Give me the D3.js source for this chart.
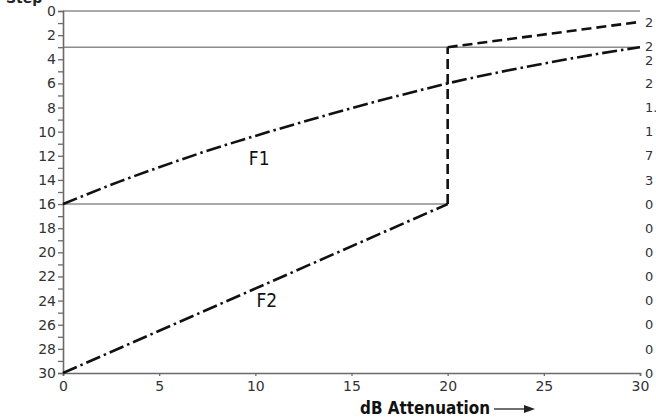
<!DOCTYPE html>
<html><head><meta charset="utf-8">
<script src="https://cdn.jsdelivr.net/npm/d3@7"></script>
<style>
html,body{margin:0;padding:0;background:#fff;overflow:hidden}
svg{display:block}
</style></head>
<body>
<svg id="c" width="656" height="417"></svg>
<script>
// ---- data ----
const f1Db   = [0, 3, 5, 7, 10, 13, 15, 17.5, 20, 25, 28, 30];
const f1Step = [16, 14.1, 12.95, 11.85, 10.35, 8.95, 8.05, 7.0, 6.0, 4.35, 3.5, 3.0];
const f2Db   = [0, 20];
const f2Step = [30, 16];
const jumpDb   = [20, 20];
const jumpStep = [16, 3];
const f2UpDb   = [20, 30];
const f2UpStep = [3, 0.9];
const gridSteps = [0, 3, 16];
const gridEnds  = [30, 30, 20];
const xTicks = [0, 5, 10, 15, 20, 25, 30];
const yTicks = d3.range(0, 31);
const rightSteps  = [0.9, 2.9, 4.1, 6, 8, 10, 12, 14, 16, 18, 20, 22, 24, 26, 28, 30];
const rightLabels = ["2", "2", "2", "2", "1.", "1", "7", "3", "0", "0", "0", "0", "0", "0", "0", "0"];
const curveLabels = ["F1", "F2"];
const curveLabelDb = [10.2, 10.6];
const curveLabelStep = [12.2, 24.0];

const svg = d3.select("#c");
const x = d3.scaleLinear().domain([0, 30]).range([63, 640]);
const y = d3.scaleLinear().domain([0, 30]).range([11, 373]);
const axisCol = "#6a6a6a", txtCol = "#333";
const cond = "'DejaVu Sans Condensed', 'DejaVu Sans'";

// grid lines
svg.append("g").selectAll("line").data(gridSteps).join("line")
  .attr("x1", x(0)).attr("x2", (d, i) => x(gridEnds[i]))
  .attr("y1", d => y(d)).attr("y2", d => y(d))
  .attr("stroke", "#8c8c8c").attr("stroke-width", 1.6);

// left axis
const ya = d3.axisLeft(y).tickValues(yTicks).tickSize(5).tickPadding(2)
  .tickFormat(d => d % 2 === 0 ? d : "");
const gy = svg.append("g").attr("transform", `translate(${x(0)},0)`).call(ya);
gy.select(".domain").attr("stroke", axisCol).attr("stroke-width", 1.6);
gy.selectAll(".tick line").attr("stroke", axisCol).attr("stroke-width", 1.3);
gy.selectAll("text").attr("font-family", "DejaVu Sans").attr("font-size", 14).attr("fill", txtCol);

// bottom axis
const xa = d3.axisBottom(x).tickValues(xTicks).tickSize(3).tickPadding(5);
const gx = svg.append("g").attr("transform", `translate(0,${y(30)})`).call(xa);
gx.select(".domain").attr("stroke", axisCol).attr("stroke-width", 1.6);
gx.selectAll(".tick line").attr("stroke", axisCol).attr("stroke-width", 1.3);
gx.selectAll("text").attr("font-family", "DejaVu Sans").attr("font-size", 14).attr("fill", txtCol);

// right labels (cropped by the picture edge)
svg.append("g").selectAll("text").data(rightLabels).join("text")
  .attr("x", 645).attr("y", (d, i) => y(rightSteps[i]))
  .attr("dy", "0.36em")
  .attr("font-family", "DejaVu Sans").attr("font-size", 13).attr("fill", txtCol)
  .text(d => d);

const line = d3.line().x(d => x(d[0])).y(d => y(d[1]));
const lineC = d3.line().x(d => x(d[0])).y(d => y(d[1])).curve(d3.curveMonotoneX);

// F1
svg.append("path").datum(f1Db.map((d, i) => [d, f1Step[i]]))
  .attr("d", lineC).attr("fill", "none").attr("stroke", "#111")
  .attr("stroke-width", 2.6).attr("stroke-dasharray", "15,4,2.5,4");
// F2
svg.append("path").datum(f2Db.map((d, i) => [d, f2Step[i]]))
  .attr("d", line).attr("fill", "none").attr("stroke", "#111")
  .attr("stroke-width", 2.6).attr("stroke-dasharray", "15,4,2.5,4");
// jump
svg.append("path").datum(jumpDb.map((d, i) => [d, jumpStep[i]]))
  .attr("d", line).attr("fill", "none").attr("stroke", "#111")
  .attr("stroke-width", 2.6).attr("stroke-dasharray", "10,5");
// F2 upper
svg.append("path").datum(f2UpDb.map((d, i) => [d, f2UpStep[i]]))
  .attr("d", line).attr("fill", "none").attr("stroke", "#111")
  .attr("stroke-width", 2.6).attr("stroke-dasharray", "10,5");

// curve labels
svg.append("g").selectAll("text").data(curveLabels).join("text")
  .attr("x", (d, i) => x(curveLabelDb[i])).attr("y", (d, i) => y(curveLabelStep[i]))
  .attr("text-anchor", "middle").attr("dy", "0.35em")
  .attr("font-family", cond).attr("font-size", 19).attr("fill", "#111")
  .text(d => d);

// axis title
svg.append("text").attr("x", 360).attr("y", 414)
  .attr("font-family", cond).attr("font-weight", "bold")
  .attr("font-size", 18).attr("fill", "#111")
  .attr("textLength", 130).attr("lengthAdjust", "spacingAndGlyphs")
  .text("dB Attenuation");
svg.append("line").attr("x1", 494).attr("x2", 526).attr("y1", 409).attr("y2", 409)
  .attr("stroke", "#333").attr("stroke-width", 1.4);
svg.append("path").attr("d", "M535,409 L524,405 L524,413 Z").attr("fill", "#222");

// y title (cropped at the top edge, as in the reference)
svg.append("text").attr("x", 6).attr("y", 3)
  .attr("font-family", "DejaVu Sans").attr("font-weight", "bold")
  .attr("font-size", 14).attr("fill", "#222").text("Step");
</script>
</body></html>
